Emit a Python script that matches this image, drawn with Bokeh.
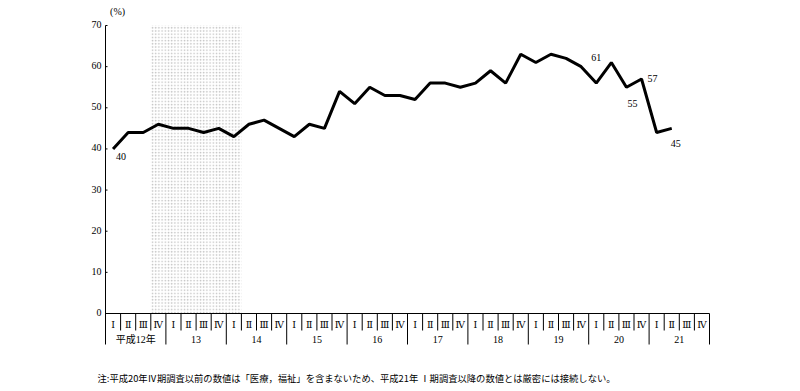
from bokeh.plotting import figure
from bokeh.models import Range1d, ColumnDataSource
from bokeh.embed import file_html
from bokeh.resources import INLINE
from bokeh.core.properties import value

# ---- data ----
years = ["平成12年", "13", "14", "15", "16", "17", "18", "19", "20", "21"]
quarters = ["Ⅰ", "Ⅱ", "Ⅲ", "Ⅳ"]
values = [40, 44, 44, 46, 45, 45, 44, 45, 43, 46, 47, 45, 43, 46, 45, 54,
          51, 55, 53, 53, 52, 56, 56, 55, 56, 59, 56, 63, 61, 63, 62, 60,
          56, 61, 55, 57, 44, 45]
labeled_idx = [0, 33, 34, 35, 37]          # quarters whose value is printed
shade_first, shade_last = 3, 8             # shaded quarters (平成12年Ⅳ〜14年Ⅰ)
y_ticks = [0, 10, 20, 30, 40, 50, 60, 70]
unit_label = "(%)"
note = "注:平成20年Ⅳ期調査以前の数値は「医療，福祉」を含まないため、平成21年 Ⅰ期調査以降の数値とは厳密には接続しない。"

n_q = len(years) * len(quarters)
SERIF = "Liberation Serif, DejaVu Serif, Noto Sans CJK JP"
CJK = "Noto Sans CJK JP"

W, H = 784, 386
PX_X, PX_Y = 15.1, 288 / 70.0      # pixels per data unit
X0, Y0 = 105, 313                  # pixel position of the origin
p = figure(width=W, height=H,
           x_range=Range1d(-X0 / PX_X, (W - X0) / PX_X),
           y_range=Range1d(-(H - Y0) / PX_Y, Y0 / PX_Y),
           output_backend="svg", toolbar_location=None,
           x_axis_location=None, y_axis_location=None,
           min_border=0, min_border_left=0, min_border_right=0,
           min_border_top=0, min_border_bottom=0)
p.grid.visible = False
p.outline_line_color = None
p.background_fill_color = "white"
p.border_fill_color = "white"

ytop = y_ticks[-1]
q_div_len = 17 / PX_Y   # quarter divider depth
y_div_len = 31 / PX_Y   # year divider depth

# shaded period
p.quad(left=[shade_first], right=[shade_last + 1], bottom=[0], top=[ytop],
       fill_color="white", line_color=None,
       hatch_pattern="dot", hatch_scale=3.2, hatch_weight=1, hatch_color="#c2c2c2")

# y axis: line, ticks, labels
p.segment(x0=[0], y0=[ytop], x1=[0], y1=[-y_div_len], line_color="black", line_width=1)
tick_len = 2 / PX_X
p.segment(x0=[0] * len(y_ticks), y0=y_ticks, x1=[tick_len] * len(y_ticks), y1=y_ticks,
          line_color="black", line_width=1)
p.text(x=[0] * len(y_ticks), y=y_ticks, text=[str(t) for t in y_ticks],
       x_offset=-4, y_offset=-1, text_font=value(SERIF), text_font_size="10px",
       text_align="right", text_baseline="middle", text_color="black")
p.text(x=[0.8], y=[ytop], text=[unit_label], y_offset=-14,
       text_font=value(SERIF), text_font_size="10px",
       text_align="center", text_baseline="middle", text_color="black")

# x axis line
p.segment(x0=[0], y0=[0], x1=[n_q], y1=[0], line_color="black", line_width=1)

# category dividers
qx = [i for i in range(1, n_q + 1) if i % 4 != 0]
yx = [i for i in range(4, n_q + 1, 4)]
p.segment(x0=qx, y0=[0] * len(qx), x1=qx, y1=[-q_div_len] * len(qx), line_color="black", line_width=1)
p.segment(x0=yx, y0=[0] * len(yx), x1=yx, y1=[-y_div_len] * len(yx), line_color="black", line_width=1)

# quarter & year labels
qsrc = ColumnDataSource(dict(x=[i + 0.5 for i in range(n_q)], y=[0] * n_q,
                             t=[quarters[i % 4] for i in range(n_q)]))
p.text(x="x", y="y", text="t", source=qsrc, y_offset=11, text_font=value(SERIF),
       text_font_size="9.5px", text_align="center", text_baseline="middle", text_color="black")
ysrc = ColumnDataSource(dict(x=[4 * k + 2 for k in range(len(years))],
                             y=[0] * len(years), t=years))
p.text(x="x", y="y", text="t", source=ysrc, y_offset=26, text_font=value(SERIF),
       text_font_size="10px", text_align="center", text_baseline="middle", text_color="black")

# series
xs = [i + 0.5 for i in range(len(values))]
p.line(xs, values, line_color="black", line_width=3)

# value labels
dx = {0: 8, 33: -15, 34: 6, 35: 11, 37: 4}
dy = {0: 8, 33: -5, 34: 16, 35: 0, 37: 15}
lsrc = ColumnDataSource(dict(x=[xs[i] for i in labeled_idx], y=[values[i] for i in labeled_idx],
                             t=[str(values[i]) for i in labeled_idx],
                             ox=[dx[i] for i in labeled_idx], oy=[dy[i] for i in labeled_idx]))
p.text(x="x", y="y", text="t", source=lsrc, x_offset="ox", y_offset="oy",
       text_font=value(SERIF), text_font_size="10px",
       text_align="center", text_baseline="middle", text_color="black")

# note
p.text(x=[0], y=[0], text=[note], x_offset=-8, y_offset=64,
       text_font=value(CJK), text_font_size="9.3px",
       text_align="left", text_baseline="middle", text_color="black")

open("out.html", "w").write(file_html(p, INLINE))
